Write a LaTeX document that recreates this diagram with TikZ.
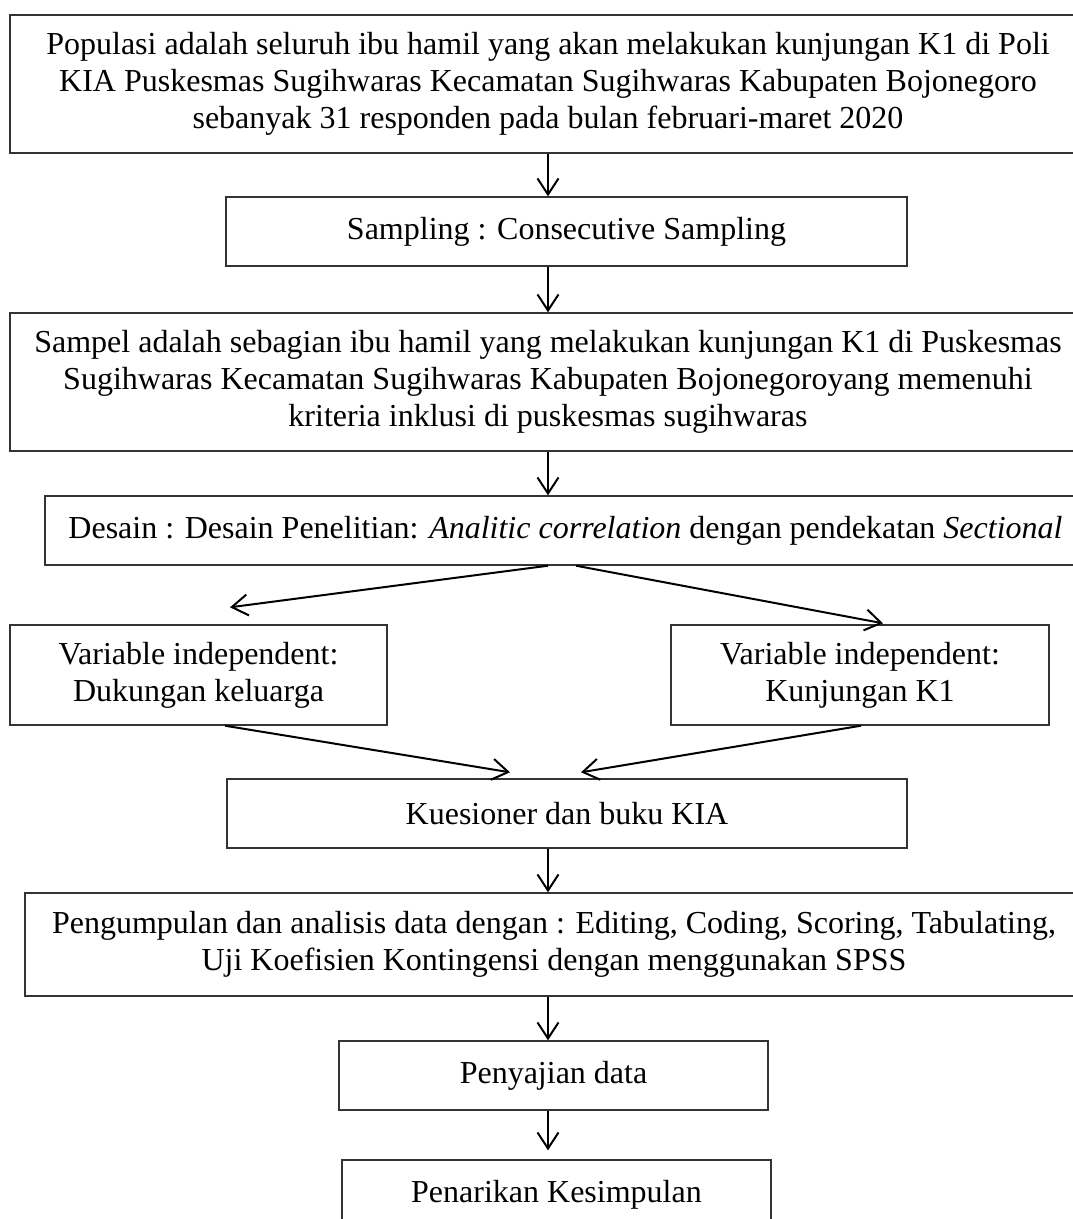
\documentclass[tikz,border=0pt]{standalone}
\usepackage{fontspec}
\setmainfont{Liberation Serif}
\usetikzlibrary{arrows.meta,calc}
\begin{document}
\begin{tikzpicture}[x=1pt,y=-1pt,
  box/.style={draw=black!80, line width=1.4pt, inner sep=0pt, align=center,
    font={\fontsize{32}{37}\selectfont}},
  arr/.style={line width=2pt, -{Straight Barb[length=16pt,width=21pt]}}]
\useasboundingbox (0,0) rectangle (1073,1219);
\fill[white] (0,0) rectangle (1073,1219);
\node[box, minimum width=1076, minimum height=138] (pop) at (548,84)
  {Populasi adalah seluruh ibu hamil yang akan melakukan kunjungan K1 di Poli\\
   KIA Puskesmas Sugihwaras Kecamatan Sugihwaras Kabupaten Bojonegoro\\
   sebanyak 31 responden pada bulan februari-maret 2020};
\node[box, minimum width=681, minimum height=69] (smp) at (566.5,231.5)
  {Sampling : Consecutive Sampling};
\node[box, minimum width=1076, minimum height=138] (sam) at (548,382)
  {Sampel adalah sebagian ibu hamil yang melakukan kunjungan K1 di Puskesmas\\
   Sugihwaras Kecamatan Sugihwaras Kabupaten Bojonegoroyang memenuhi\\
   kriteria inklusi di puskesmas sugihwaras};
\node[box, minimum width=1041, minimum height=69] (des) at (565.5,530.5)
  {Desain : Desain Penelitian: \textit{Analitic correlation} dengan pendekatan \textit{Sectional}};
\node[box, minimum width=377, minimum height=100] (lv) at (198.5,675)
  {Variable independent:\\ Dukungan keluarga};
\node[box, minimum width=378, minimum height=100] (rv) at (860,675)
  {Variable independent:\\ Kunjungan K1};
\node[box, minimum width=680, minimum height=69] (kue) at (567,813.5)
  {Kuesioner dan buku KIA};
\node[box, minimum width=1058, minimum height=103] (pen) at (554,944.5)
  {Pengumpulan dan analisis data dengan : Editing, Coding, Scoring, Tabulating,\\
   Uji Koefisien Kontingensi dengan menggunakan SPSS};
\node[box, minimum width=429, minimum height=69] (sji) at (553.5,1075.5)
  {Penyajian data};
\node[box, minimum width=429, minimum height=69] (tar) at (556.5,1194.5)
  {Penarikan Kesimpulan};
\coordinate (ax) at (548,0);
\draw[arr] (pop.south -| ax) -- (smp.north -| ax);
\draw[arr] (smp.south -| ax) -- (sam.north -| ax);
\draw[arr] (sam.south -| ax) -- (des.north -| ax);
\coordinate (dl) at (548,0);
\coordinate (dr) at (576,0);
\coordinate (tl) at ($(lv.north -| 230,0)+(0,-17)$);
\coordinate (tr) at ($(rv.north -| 883,0)+(0,-1)$);
\draw[arr] (des.south -| dl) -- (tl);
\draw[arr] (des.south -| dr) -- (tr);
\coordinate (lvs) at (225,0);
\coordinate (rvs) at (861,0);
\coordinate (kl) at ($(kue.north -| 510,0)+(0,-6)$);
\coordinate (kr) at ($(kue.north -| 581,0)+(0,-6)$);
\draw[arr] (lv.south -| lvs) -- (kl);
\draw[arr] (rv.south -| rvs) -- (kr);
\draw[arr] (kue.south -| ax) -- (pen.north -| ax);
\draw[arr] (pen.south -| ax) -- (sji.north -| ax);
\draw[arr] (sji.south -| ax) -- ($(tar.north -| ax)+(0,-9)$);
\end{tikzpicture}
\end{document}
